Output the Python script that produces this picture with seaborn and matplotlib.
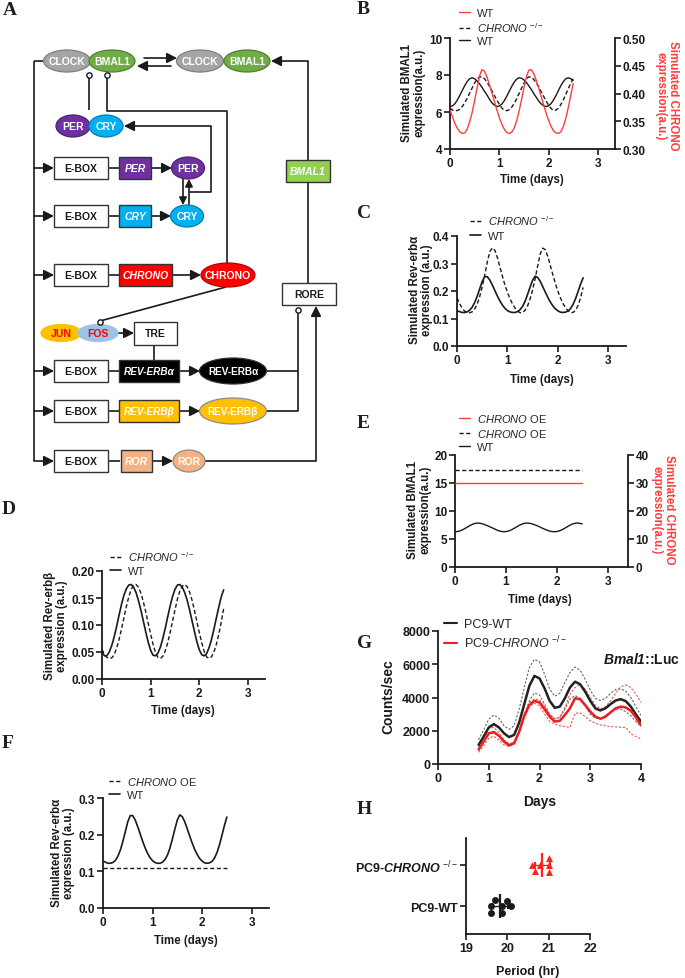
import numpy as np
import pandas as pd
import matplotlib
matplotlib.use("Agg")
import matplotlib.pyplot as plt
from matplotlib.patches import Ellipse, Rectangle
from matplotlib.lines import Line2D
import seaborn as sns

# ---------------- data ----------------
t_days = [0.00, 0.05, 0.10, 0.15, 0.20, 0.25, 0.30, 0.35, 0.40, 0.45,
          0.50, 0.55, 0.60, 0.65, 0.70, 0.75, 0.80, 0.85, 0.90, 0.95,
          1.00, 1.05, 1.10, 1.15, 1.20, 1.25, 1.30, 1.35, 1.40, 1.45,
          1.50, 1.55, 1.60, 1.65, 1.70, 1.75, 1.80, 1.85, 1.90, 1.95,
          2.00, 2.05, 2.10, 2.15, 2.20, 2.25, 2.30, 2.35, 2.40, 2.45, 2.50]

bmal1_wt = [6.30, 6.33, 6.45, 6.65, 6.90, 7.17, 7.43, 7.65, 7.80, 7.85,
            7.80, 7.68, 7.52, 7.33, 7.12, 6.92, 6.70, 6.50, 6.37, 6.30,
            6.32, 6.42, 6.60, 6.84, 7.10, 7.37, 7.60, 7.77, 7.85, 7.83,
            7.74, 7.60, 7.42, 7.22, 7.00, 6.80, 6.60, 6.44, 6.34, 6.30,
            6.33, 6.45, 6.64, 6.88, 7.15, 7.42, 7.64, 7.80, 7.85, 7.80, 7.70]

bmal1_ko = [6.20, 6.10, 6.07, 6.08, 6.15, 6.30, 6.50, 6.75, 7.02, 7.30,
            7.57, 7.78, 7.90, 7.90, 7.80, 7.62, 7.40, 7.15, 6.90, 6.65,
            6.42, 6.22, 6.10, 6.07, 6.12, 6.25, 6.45, 6.70, 6.98, 7.27,
            7.55, 7.78, 7.90, 7.88, 7.76, 7.58, 7.36, 7.10, 6.85, 6.60,
            6.38, 6.20, 6.08, 6.10, 6.20, 6.40, 6.65, 6.95, 7.25, 7.55, 7.80]

chrono_wt = [0.370, 0.358, 0.346, 0.337, 0.331, 0.328, 0.329, 0.336, 0.349, 0.366,
             0.387, 0.410, 0.432, 0.443, 0.440, 0.430, 0.416, 0.401, 0.386, 0.371,
             0.357, 0.345, 0.336, 0.330, 0.328, 0.330, 0.337, 0.350, 0.367, 0.388,
             0.410, 0.430, 0.442, 0.443, 0.436, 0.424, 0.410, 0.395, 0.380, 0.365,
             0.352, 0.341, 0.333, 0.329, 0.328, 0.331, 0.340, 0.355, 0.374, 0.396, 0.418]

reverba_wt = [0.128, 0.125, 0.122, 0.122, 0.124, 0.130, 0.141, 0.158, 0.181, 0.208,
              0.235, 0.252, 0.252, 0.240, 0.222, 0.202, 0.182, 0.164, 0.149, 0.137,
              0.129, 0.124, 0.122, 0.122, 0.125, 0.132, 0.144, 0.163, 0.188, 0.215,
              0.240, 0.254, 0.249, 0.235, 0.216, 0.196, 0.177, 0.160, 0.146, 0.135,
              0.128, 0.123, 0.122, 0.123, 0.127, 0.136, 0.151, 0.172, 0.198, 0.225, 0.248]

reverba_ko = [0.175, 0.155, 0.138, 0.127, 0.122, 0.121, 0.124, 0.134, 0.152, 0.180,
              0.215, 0.258, 0.305, 0.343, 0.357, 0.348, 0.322, 0.288, 0.254, 0.222,
              0.195, 0.172, 0.153, 0.138, 0.127, 0.121, 0.122, 0.130, 0.146, 0.172,
              0.205, 0.246, 0.292, 0.335, 0.356, 0.350, 0.326, 0.293, 0.259, 0.227,
              0.199, 0.175, 0.155, 0.139, 0.128, 0.121, 0.122, 0.130, 0.147, 0.176, 0.213]

reverbb_wt = [0.050, 0.043, 0.043, 0.050, 0.062, 0.078, 0.097, 0.118, 0.138, 0.155,
              0.167, 0.174, 0.175, 0.170, 0.160, 0.145, 0.127, 0.107, 0.087, 0.068,
              0.053, 0.044, 0.043, 0.048, 0.059, 0.075, 0.094, 0.115, 0.135, 0.153,
              0.166, 0.174, 0.175, 0.170, 0.160, 0.146, 0.128, 0.108, 0.088, 0.069,
              0.054, 0.045, 0.043, 0.047, 0.058, 0.073, 0.092, 0.113, 0.133, 0.152, 0.165]

reverbb_ko = [0.055, 0.046, 0.040, 0.038, 0.039, 0.045, 0.057, 0.073, 0.092, 0.113,
              0.134, 0.152, 0.166, 0.174, 0.175, 0.170, 0.159, 0.143, 0.124, 0.103,
              0.083, 0.064, 0.049, 0.040, 0.038, 0.042, 0.052, 0.067, 0.086, 0.107,
              0.128, 0.148, 0.163, 0.172, 0.175, 0.171, 0.161, 0.146, 0.127, 0.106,
              0.086, 0.067, 0.051, 0.041, 0.038, 0.041, 0.050, 0.064, 0.083, 0.105, 0.130]

oe_days = [0.0, 2.5]
bmal1_oe = [17.3, 17.3]
chrono_oe = [30.0, 30.0]
reverba_oe = [0.108, 0.108]

g_days = [0.8, 0.9, 1.0, 1.1, 1.2, 1.3, 1.4, 1.5, 1.6, 1.7, 1.8, 1.9, 2.0,
          2.1, 2.2, 2.3, 2.4, 2.5, 2.6, 2.7, 2.8, 2.9, 3.0, 3.1, 3.2, 3.3,
          3.4, 3.5, 3.6, 3.7, 3.8, 3.9, 4.0]
wt_mean = [1150, 1650, 2200, 2400, 2200, 1850, 1620, 1750, 2500, 3600, 4700, 5300, 5150,
           4550, 3800, 3380, 3450, 3950, 4600, 4950, 4800, 4350, 3800, 3350, 3220, 3350,
           3600, 3820, 3900, 3780, 3450, 2980, 2550]
wt_upper = [1450, 2050, 2700, 2950, 2750, 2300, 2080, 2300, 3300, 4600, 5800, 6300, 6150,
            5400, 4500, 4080, 4250, 4900, 5500, 5830, 5650, 5100, 4450, 3950, 3820, 3950,
            4250, 4480, 4520, 4380, 4000, 3450, 2920]
wt_lower = [1000, 1400, 1800, 1900, 1700, 1400, 1220, 1300, 1900, 2900, 3800, 4280, 4150,
            3600, 3000, 2720, 2800, 3300, 3900, 4120, 3950, 3500, 3000, 2750, 2720, 2900,
            3150, 3300, 3310, 3150, 2900, 2550, 2270]
ko_mean = [870, 1350, 1850, 1920, 1700, 1350, 1120, 1250, 1950, 2900, 3550, 3800, 3700,
           3300, 2850, 2550, 2600, 2950, 3350, 3950, 3900, 3550, 3150, 2850, 2720, 2850,
           3100, 3350, 3450, 3400, 3200, 2800, 2320]
ko_upper = [1070, 1600, 2150, 2200, 1900, 1450, 1150, 1300, 2050, 3000, 3700, 3920, 3850,
            3450, 3000, 2720, 2800, 3400, 4200, 4600, 4760, 4500, 4000, 3550, 3320, 3450,
            3800, 4250, 4650, 4750, 4600, 4200, 3700]
ko_lower = [700, 1100, 1550, 1670, 1450, 1150, 1060, 1200, 1850, 2800, 3450, 3660, 3500,
            3000, 2550, 2400, 2300, 2250, 2200, 3050, 3080, 2850, 2600, 2450, 2350, 2300,
            2250, 2230, 2210, 2200, 1820, 1650, 1500]

groups = ["PC9-CHRONO", "PC9-WT"]
period_ko = [20.68, 21.0, 20.79, 21.0, 20.59, 21.0]
period_wt = [19.6, 19.88, 19.69, 19.99, 19.6, 19.88, 20.09]

# ---------------- style ----------------
sns.set_theme(style="ticks")
plt.rcParams["font.family"] = ["Liberation Sans", "DejaVu Sans"]
plt.rcParams["mathtext.fontset"] = "custom"
plt.rcParams["mathtext.rm"] = "Liberation Sans"
plt.rcParams["mathtext.it"] = "Liberation Sans:italic"
plt.rcParams["mathtext.bf"] = "Liberation Sans:bold"
try:
    plt.rcParams["mathtext.bfit"] = "Liberation Sans:italic:bold"
except Exception:
    pass

RED = "#ff3c3c"
W, H = 685, 979
fig = plt.figure(figsize=(W / 100, H / 100), dpi=100)
fig.patch.set_facecolor("white")


def add_ax(l, t, r, b):
    return fig.add_axes([l / W, 1 - b / H, (r - l) / W, (b - t) / H])


def prism(ax, right=False, fs=8.5):
    ax.spines["top"].set_visible(False)
    if not right:
        ax.spines["right"].set_visible(False)
    for s in ax.spines.values():
        s.set_linewidth(1.3)
        s.set_color("k")
    ax.tick_params(direction="out", length=4, width=1.2, colors="k", labelsize=fs, pad=1.5)
    plt.setp(ax.get_xticklabels(), fontweight="bold")
    plt.setp(ax.get_yticklabels(), fontweight="bold")
    ax.set_xlabel("")
    ax.set_ylabel("")
    ax.grid(False)


def ftext(x, y, s, rot=0, fs=8.3, color="k", weight="bold", **kw):
    fig.text(x / W, 1 - y / H, s, rotation=rot, ha="center", va="center", fontsize=fs,
             color=color, fontweight=weight, multialignment="center", linespacing=1.1, **kw)


def legend(handles, labels, x, y, fs=8, ls=0.3):
    fig.legend(handles, labels, loc="upper left", bbox_to_anchor=(x / W, 1 - y / H),
               frameon=False, fontsize=fs, handlelength=1.0, handletextpad=0.6,
               borderpad=0, borderaxespad=0, labelspacing=ls)


DASH = (0, (3, 1.8))
KO = r"$\mathit{CHRONO}$ $^{-/-}$"
OE = r"$\mathit{CHRONO}$ OE"


def letter(x, y, s):
    fig.text(x / W, 1 - y / H, s, fontsize=14, fontweight="bold", family="Liberation Serif",
             color="#231f20", ha="left", va="top")


for s, x, y in [("A", 3, 2), ("B", 357, 1), ("C", 357, 205), ("E", 357, 415),
                ("D", 2, 501), ("F", 2, 735), ("G", 357, 635), ("H", 357, 801)]:
    letter(x, y, s)

# ---------------- Panel A: schematic ----------------
axA = add_ax(0, 0, 345, 600)
axA.set_xlim(0, 345)
axA.set_ylim(600, 0)
axA.axis("off")


def ell(cx, cy, w, h, fc, txt, tc="white", ec="#6f6f6f", fs=7.5):
    axA.add_patch(Ellipse((cx, cy), w, h, fc=fc, ec=ec, lw=0.9, zorder=3))
    axA.text(cx, cy, txt, color=tc, ha="center", va="center", fontsize=fs,
             fontweight="bold", zorder=4)


def box(x0, y0, x1, y1, fc, txt, tc="k", it=False, fs=7.5):
    axA.add_patch(Rectangle((x0, y0), x1 - x0, y1 - y0, fc=fc, ec="#333333", lw=1.0, zorder=3))
    axA.text((x0 + x1) / 2, (y0 + y1) / 2, txt, color=tc, ha="center", va="center",
             fontsize=fs, fontweight="bold", style="italic" if it else "normal", zorder=4)


def line(xs, ys):
    axA.plot(xs, ys, color="k", lw=1.2, zorder=2, solid_capstyle="butt")


def arrow(x0, y0, x1, y1, ms=11):
    axA.annotate("", xy=(x1, y1), xytext=(x0, y0),
                 arrowprops=dict(arrowstyle="-|>,head_length=0.55,head_width=0.28", lw=1.2,
                                 color="k", shrinkA=0, shrinkB=0, mutation_scale=ms),
                 zorder=2)


def tbar(x, y):
    axA.plot([x], [y], "o", ms=3.8, mfc="white", mec="k", mew=1.0, zorder=5)


# complexes
ell(67, 62, 47, 22, "#a5a5a5", "CLOCK", ec="#7f7f7f")
ell(112, 62, 46, 22, "#70ad47", "BMAL1", ec="#507e32")
ell(200, 62, 47, 22, "#a5a5a5", "CLOCK", ec="#7f7f7f")
ell(247, 62, 46, 22, "#70ad47", "BMAL1", ec="#507e32")
arrow(144, 59, 177, 59)
arrow(171, 67, 137, 67)
# left trunk
line([34, 34], [62, 462])
line([34, 44], [62, 62])
# inhibitions from CLOCK/BMAL1
tbar(89, 76)
line([89, 89], [78, 111])
tbar(107, 76)
line([107, 107, 227, 227], [78, 112, 112, 264])
# PER/CRY complex
ell(73, 127, 34, 22, "#7030a0", "PER", ec="#4b2070")
ell(106, 127, 34, 22, "#00b0f0", "CRY", ec="#0080b0")
arrow(211, 127, 124, 127)
line([211, 211, 189], [127, 193, 193])

rows = [169, 217, 276, 372, 412, 462]
for y in rows:
    arrow(34, y, 54, y)
    box(54, y - 11, 108, y + 11, "white", "E-BOX")
    line([108, 120], [y, y])

# PER row
box(119, 158, 151, 180, "#7030a0", "PER", "white", True)
arrow(151, 169, 172, 169)
ell(188, 169, 33, 22, "#7030a0", "PER", ec="#4b2070")
# CRY row
box(119, 206, 151, 228, "#00b0f0", "CRY", "white", True)
arrow(151, 217, 171, 217)
ell(187, 217, 33, 22, "#00b0f0", "CRY", ec="#0080b0")
arrow(183, 180, 183, 206, ms=8)
arrow(189, 206, 189, 180, ms=8)
# CHRONO row
box(119, 265, 172, 287, "#ff0000", "CHRONO", "white", True)
arrow(172, 276, 201, 276)
ell(228, 276, 54, 24, "#ff0000", "CHRONO", ec="#c00000")
line([226, 100], [288, 322])
tbar(100, 323)
# JUN/FOS -> TRE
ell(61, 334, 40, 17, "#ffc000", "JUN", tc="#ff0000", ec="#ffc000")
ell(98, 334, 40, 17, "#9dc3e6", "FOS", tc="#ff0000", ec="#9dc3e6")
arrow(118, 334, 134, 334)
box(134, 323, 177, 346, "white", "TRE")
line([154, 154], [346, 361])
# REV-ERBa row
box(119, 361, 179, 383, "#000000", "REV-ERBα", "white", True, fs=7.2)
arrow(179, 372, 200, 372)
ell(233, 372, 67, 26, "#000000", "REV-ERBα", ec="#333333", fs=7.2)
line([266, 298], [372, 372])
# REV-ERBb row
box(119, 401, 179, 423, "#ffc000", "REV-ERBβ", "white", True, fs=7.2)
arrow(179, 412, 200, 412)
ell(233, 412, 67, 26, "#ffc000", "REV-ERBβ", ec="#8c8c8c", fs=7.2)
line([266, 298, 298], [412, 412, 313])
tbar(298, 311)
# ROR row
box(121, 451, 152, 473, "#f4b183", "ROR", "white", True)
arrow(152, 462, 173, 462)
ell(189, 462, 32, 22, "#f4b183", "ROR", ec="#8c8c8c")
line([205, 316], [462, 462])
arrow(316, 462, 316, 307)
# RORE -> BMAL1
box(282, 284, 336, 306, "white", "RORE")
line([308, 308], [284, 183])
box(286, 161, 330, 183, "#92d050", "BMAL1", "white", True)
line([308, 308], [161, 62])
arrow(308, 62, 271, 62)

# ---------------- Panel B ----------------
axB = add_ax(450, 39, 615, 150)
sns.lineplot(x=t_days, y=bmal1_ko, ax=axB, color="k", lw=1.0, linestyle=DASH)
sns.lineplot(x=t_days, y=bmal1_wt, ax=axB, color="k", lw=1.0)
axB.set_xlim(0, 3.35)
axB.set_ylim(4, 10)
axB.set_xticks([0, 1, 2, 3])
axB.set_yticks([4, 6, 8, 10])
axB2 = axB.twinx()
sns.lineplot(x=t_days, y=chrono_wt, ax=axB2, color=RED, lw=1.0)
axB2.set_ylim(0.30, 0.50)
axB2.set_yticks([0.30, 0.35, 0.40, 0.45, 0.50])
axB2.set_yticklabels(["0.30", "0.35", "0.40", "0.45", "0.50"])
prism(axB)
prism(axB2, right=True)
axB2.spines["left"].set_visible(False)
axB2.spines["bottom"].set_visible(False)
ftext(413, 93, "Simulated BMAL1\nexpression(a.u.)", rot=90)
ftext(667, 96, "Simulated CHRONO\nexpression(a.u.)", rot=270, color=RED)
ftext(532, 180, "Time (days)")
legend([Line2D([], [], color=RED, lw=1.0), Line2D([], [], color="k", lw=1.0, ls=DASH),
        Line2D([], [], color="k", lw=1.0)], ["WT", KO, "WT"], 459, 9, ls=0.2)

# ---------------- Panel C ----------------
axC = add_ax(457, 237, 626, 347)
sns.lineplot(x=t_days, y=reverba_ko, ax=axC, color="k", lw=1.0, linestyle=DASH)
sns.lineplot(x=t_days, y=reverba_wt, ax=axC, color="k", lw=1.2)
axC.set_xlim(0, 3.35)
axC.set_ylim(0, 0.4)
axC.set_xticks([0, 1, 2, 3])
axC.set_yticks([0.0, 0.1, 0.2, 0.3, 0.4])
axC.set_yticklabels(["0.0", "0.1", "0.2", "0.3", "0.4"])
prism(axC)
ftext(421, 290, "Simulated Rev-erbα\nexpression (a.u.)", rot=90)
ftext(542, 380, "Time (days)")
legend([Line2D([], [], color="k", lw=1.0, ls=DASH), Line2D([], [], color="k", lw=1.2)],
       [KO, "WT"], 470, 214, ls=0.4)

# ---------------- Panel E ----------------
axE = add_ax(455, 456, 628, 568)
sns.lineplot(x=oe_days, y=bmal1_oe, ax=axE, color="k", lw=1.0, linestyle=DASH)
sns.lineplot(x=t_days, y=bmal1_wt, ax=axE, color="k", lw=1.0)
axE.set_xlim(0, 3.4)
axE.set_ylim(0, 20)
axE.set_xticks([0, 1, 2, 3])
axE.set_yticks([0, 5, 10, 15, 20])
axE2 = axE.twinx()
sns.lineplot(x=oe_days, y=chrono_oe, ax=axE2, color=RED, lw=1.0)
axE2.set_ylim(0, 40)
axE2.set_yticks([0, 10, 20, 30, 40])
prism(axE)
prism(axE2, right=True)
axE2.spines["left"].set_visible(False)
axE2.spines["bottom"].set_visible(False)
ftext(419, 510, "Simulated BMAL1\nexpression(a.u.)", rot=90)
ftext(663, 510, "Simulated CHRONO\nexpression(a.u.)", rot=270, color=RED)
ftext(540, 600, "Time (days)")
legend([Line2D([], [], color=RED, lw=1.0), Line2D([], [], color="k", lw=1.0, ls=DASH),
        Line2D([], [], color="k", lw=1.0)], [OE, OE, "WT"], 459, 413, ls=0.25)

# ---------------- Panel D ----------------
axD = add_ax(102, 572, 265, 680)
sns.lineplot(x=t_days, y=reverbb_ko, ax=axD, color="k", lw=1.0, linestyle=DASH)
sns.lineplot(x=t_days, y=reverbb_wt, ax=axD, color="k", lw=1.2)
axD.set_xlim(0, 3.35)
axD.set_ylim(0, 0.20)
axD.set_xticks([0, 1, 2, 3])
axD.set_yticks([0.0, 0.05, 0.10, 0.15, 0.20])
axD.set_yticklabels(["0.00", "0.05", "0.10", "0.15", "0.20"])
prism(axD)
ftext(56, 626, "Simulated Rev-erbβ\nexpression (a.u.)", rot=90)
ftext(183, 711, "Time (days)")
legend([Line2D([], [], color="k", lw=1.0, ls=DASH), Line2D([], [], color="k", lw=1.2)],
       [KO, "WT"], 110, 550, ls=0.3)

# ---------------- Panel F ----------------
axF = add_ax(103, 799, 269, 909)
sns.lineplot(x=oe_days, y=reverba_oe, ax=axF, color="k", lw=1.0, linestyle=DASH)
sns.lineplot(x=t_days, y=reverba_wt, ax=axF, color="k", lw=1.2)
axF.set_xlim(0, 3.35)
axF.set_ylim(0, 0.3)
axF.set_xticks([0, 1, 2, 3])
axF.set_yticks([0.0, 0.1, 0.2, 0.3])
axF.set_yticklabels(["0.0", "0.1", "0.2", "0.3"])
prism(axF)
ftext(63, 853, "Simulated Rev-erbα\nexpression (a.u.)", rot=90)
ftext(186, 941, "Time (days)")
legend([Line2D([], [], color="k", lw=1.0, ls=DASH), Line2D([], [], color="k", lw=1.2)],
       [OE, "WT"], 109, 776, ls=0.25)

# ---------------- Panel G ----------------
axG = add_ax(438, 632, 641, 765)
GRAY = "#666666"
LRED = "#ee5555"
GD = (0, (2, 1.5))
sns.lineplot(x=g_days, y=wt_upper, ax=axG, color=GRAY, lw=0.8, linestyle=GD)
sns.lineplot(x=g_days, y=wt_lower, ax=axG, color=GRAY, lw=0.8, linestyle=GD)
sns.lineplot(x=g_days, y=ko_upper, ax=axG, color=LRED, lw=0.8, linestyle=GD)
sns.lineplot(x=g_days, y=ko_lower, ax=axG, color=LRED, lw=0.8, linestyle=GD)
sns.lineplot(x=g_days, y=wt_mean, ax=axG, color="#222222", lw=1.8)
sns.lineplot(x=g_days, y=ko_mean, ax=axG, color="#ee1c1c", lw=1.8)
axG.set_xlim(0, 4)
axG.set_ylim(0, 8000)
axG.set_xticks([0, 1, 2, 3, 4])
axG.set_yticks([0, 2000, 4000, 6000, 8000])
prism(axG, fs=9)
ftext(388, 697, "Counts/sec", rot=90, fs=10)
ftext(540, 802, "Days", fs=10)
ftext(641, 660, r"$\mathbfit{Bmal1}$::Luc", fs=10)
legend([Line2D([], [], color="#222222", lw=1.5), Line2D([], [], color="#ee1c1c", lw=1.5)],
       ["PC9-WT", r"PC9-$\mathit{CHRONO}$ $^{-/-}$"], 444, 619, fs=9, ls=0.3)

# ---------------- Panel H ----------------
axH = add_ax(466, 839, 590, 935)
sns.swarmplot(x=period_ko, y=["PC9-CHRONO"] * len(period_ko), order=groups, ax=axH,
              color="#ff2020", marker="^", size=5, orient="h")
sns.swarmplot(x=period_wt, y=["PC9-WT"] * len(period_wt), order=groups, ax=axH,
              color="k", marker="o", size=5, orient="h")
for i, (vals, col) in enumerate([(period_ko, "#ff2020"), (period_wt, "k")]):
    axH.errorbar(np.mean(vals), i, xerr=np.std(vals, ddof=1), fmt="|", ms=17, mew=1.6,
                 color=col, ecolor=col, elinewidth=1.0, capsize=2.5, capthick=1.0, zorder=5)
axH.set_xlim(19, 22)
axH.set_ylim(1.68, -0.66)
axH.set_xticks([19, 20, 21, 22])
axH.set_yticks([0, 1])
axH.set_yticklabels([r"PC9-$\mathbfit{CHRONO}$ $^{-/-}$", "PC9-WT"])
prism(axH, fs=9)
ftext(528, 972, "Period (hr)", fs=9)

fig.savefig("out.png", dpi=100, facecolor="white")
